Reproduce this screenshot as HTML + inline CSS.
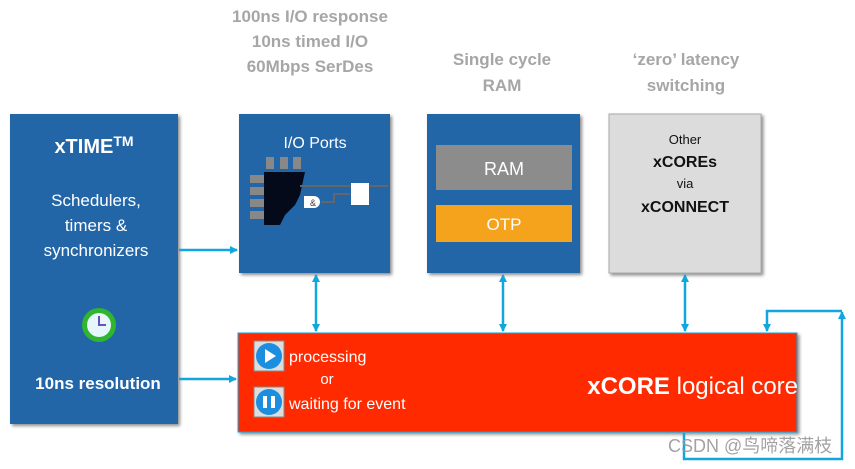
<!DOCTYPE html>
<html><head><meta charset="utf-8"><style>
body{margin:0;background:#fff;}
svg text{font-family:"Liberation Sans","Noto Sans CJK SC",sans-serif;}
</style></head><body>
<svg width="855" height="464" viewBox="0 0 855 464" xmlns="http://www.w3.org/2000/svg">
<defs>
<marker id="a" markerWidth="8" markerHeight="8" refX="7" refY="4" orient="auto" markerUnits="userSpaceOnUse"><path d="M0,0L8,4L0,8z" fill="#12a6df"/></marker>
<marker id="s" markerWidth="8" markerHeight="8" refX="1" refY="4" orient="auto" markerUnits="userSpaceOnUse"><path d="M8,0L0,4L8,8z" fill="#12a6df"/></marker>
<filter id="sh"><feDropShadow dx="2" dy="2" stdDeviation="1.5" flood-opacity="0.45"/></filter>
</defs>
<g fill="#a6a6a6" font-weight="bold" font-size="17" text-anchor="middle">
<text x="310" y="22">100ns I/O response</text>
<text x="310" y="47">10ns timed I/O</text>
<text x="310" y="72">60Mbps SerDes</text>
<text x="502" y="65">Single cycle</text>
<text x="502" y="91">RAM</text>
<text x="686" y="65">‘zero’ latency</text>
<text x="686" y="91">switching</text>
</g>
<rect x="10" y="114" width="168" height="310" fill="#2466a8" filter="url(#sh)"/>
<rect x="239" y="114" width="151" height="159" fill="#2466a8" filter="url(#sh)"/>
<rect x="427" y="114" width="153" height="159" fill="#2466a8" filter="url(#sh)"/>
<rect x="609" y="114" width="152" height="159" fill="#dcdcdc" stroke="#aaa" filter="url(#sh)"/>
<rect x="436" y="145" width="136" height="45" fill="#8c8c8c"/>
<rect x="436" y="205" width="136" height="37" fill="#f5a31c"/>
<rect x="238" y="333" width="559" height="99" fill="#ff2a00" stroke="#12a6df" filter="url(#sh)"/>
<g fill="#fff" text-anchor="middle">
<text x="94" y="153" font-size="20" font-weight="bold">xTIME<tspan font-size="14" dy="-7">TM</tspan></text>
<text x="96" y="206" font-size="17">Schedulers,</text>
<text x="96" y="231" font-size="17">timers &amp;</text>
<text x="96" y="256" font-size="17">synchronizers</text>
<text x="98" y="389" font-size="17" font-weight="bold">10ns resolution</text>
<text x="315" y="148" font-size="16">I/O Ports</text>
<text x="504" y="175" font-size="18">RAM</text>
<text x="504" y="230" font-size="17">OTP</text>
</g>
<g fill="#111" text-anchor="middle">
<text x="685" y="144" font-size="13">Other</text>
<text x="685" y="167" font-size="16" font-weight="bold">xCOREs</text>
<text x="685" y="188" font-size="13">via</text>
<text x="685" y="212" font-size="16" font-weight="bold">xCONNECT</text>
</g>
<circle cx="99" cy="325" r="17" fill="#2fb52f"/>
<circle cx="99" cy="325" r="12" fill="#e6f6fb"/>
<path d="M99,316V325H106" stroke="#6a4fc0" stroke-width="2" fill="none"/>
<g>
<rect x="266" y="157" width="8" height="12" fill="#888"/><rect x="280" y="157" width="8" height="12" fill="#888"/><rect x="293" y="157" width="8" height="12" fill="#888"/>
<rect x="250" y="175" width="14" height="8" fill="#888"/><rect x="250" y="187" width="14" height="8" fill="#888"/><rect x="250" y="199" width="14" height="8" fill="#888"/><rect x="250" y="211" width="14" height="8" fill="#888"/>
<path d="M264,172H305L300,195L295,205L285,215L280,225L264,225Z" fill="#050a1a"/>
<line x1="300" y1="186" x2="388" y2="186" stroke="#666" stroke-width="2"/>
<rect x="351" y="183" width="18" height="22" fill="#fff"/>
<path d="M304,196h10a6,6 0 0 1 0,12h-10z" fill="#fff"/>
<text x="310" y="206" font-size="9" fill="#333">&amp;</text>
<path d="M321,202H334V194H350" stroke="#666" stroke-width="2" fill="none"/>
</g>
<text x="289" y="362" font-size="16" fill="#fff">processing</text>
<text x="327" y="384" font-size="15" fill="#fff" text-anchor="middle">or</text>
<text x="289" y="409" font-size="16" fill="#fff">waiting for event</text>
<rect x="254" y="341" width="30" height="30" fill="#ddd" stroke="#888"/>
<circle cx="269" cy="356" r="13" fill="#1b8ee0"/><path d="M265,349L276,356L265,363Z" fill="#fff"/>
<rect x="254" y="387" width="30" height="30" fill="#ddd" stroke="#888"/>
<circle cx="269" cy="402" r="13" fill="#1b8ee0"/><rect x="263" y="396" width="4" height="12" fill="#fff"/><rect x="271" y="396" width="4" height="12" fill="#fff"/>
<text x="798" y="394" font-size="24" fill="#fff" text-anchor="end"><tspan font-weight="bold">xCORE</tspan> logical core</text>
<g stroke="#12a6df" stroke-width="2.5" fill="none">
<line x1="179" y1="250" x2="237" y2="250" marker-end="url(#a)"/>
<line x1="179" y1="379" x2="236" y2="379" marker-end="url(#a)"/>
<line x1="316" y1="275" x2="316" y2="331" marker-start="url(#s)" marker-end="url(#a)"/>
<line x1="503" y1="275" x2="503" y2="331" marker-start="url(#s)" marker-end="url(#a)"/>
<line x1="685" y1="275" x2="685" y2="331" marker-start="url(#s)" marker-end="url(#a)"/>
<path d="M684,433V459H842V314"/>
<line x1="842" y1="320" x2="842" y2="312" marker-end="url(#a)"/>
<path d="M842,311H767V331" marker-end="url(#a)"/>
</g>
<text x="668" y="452" font-size="18" fill="#999" opacity="0.9">CSDN @鸟啼落满枝</text>
</svg>
</body></html>
